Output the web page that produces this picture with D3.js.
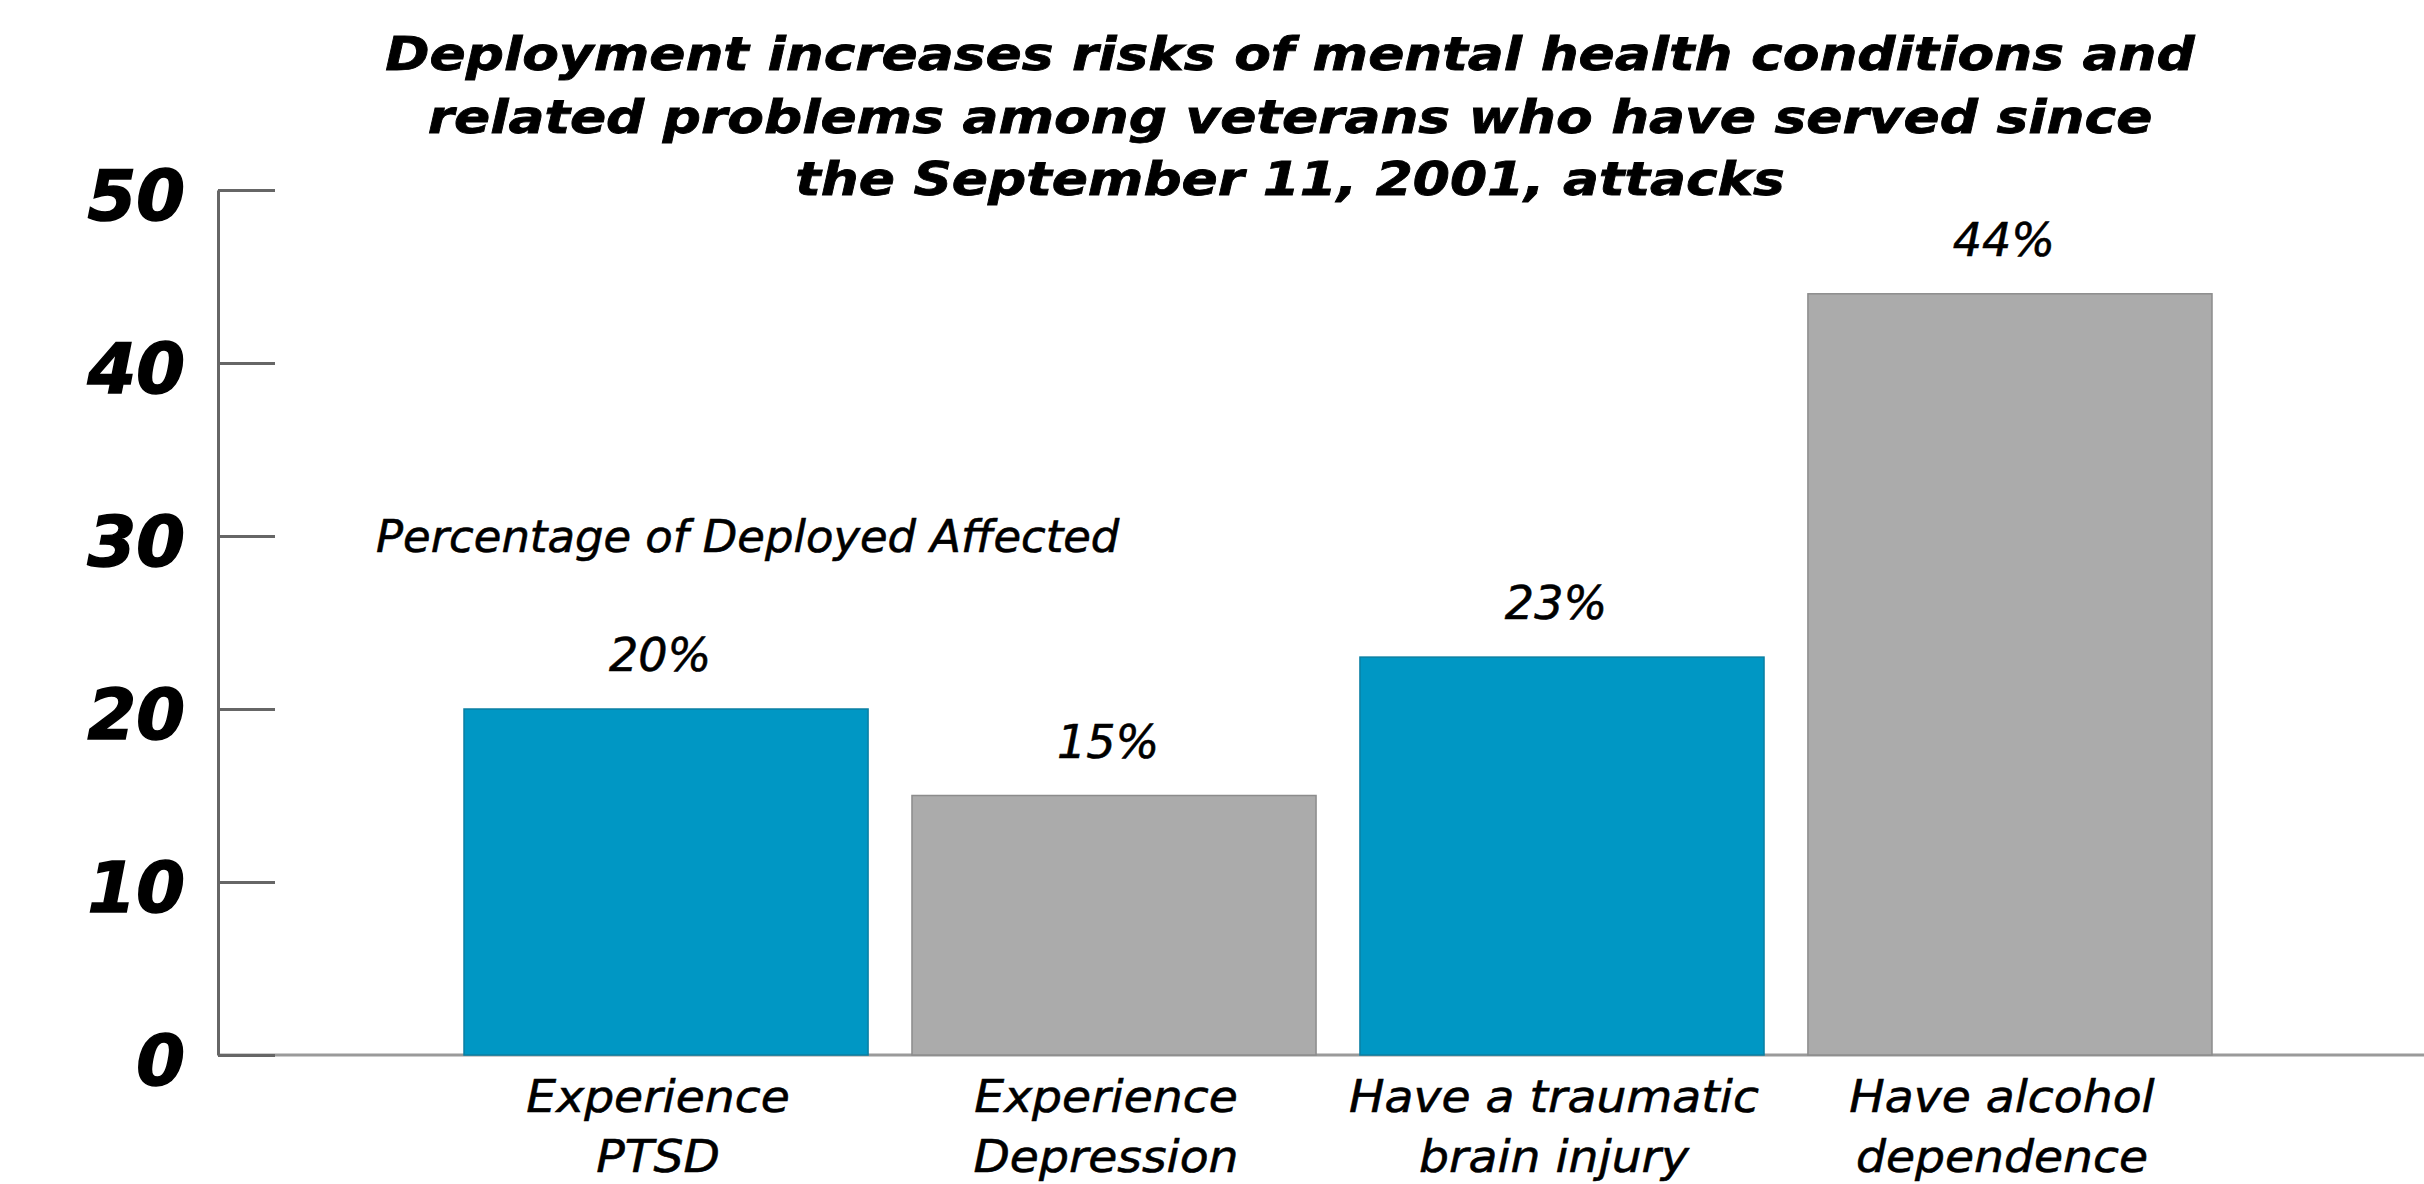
<!DOCTYPE html>
<html><head><meta charset="utf-8">
<script src="https://cdn.jsdelivr.net/npm/d3@7"></script>
<style>body{margin:0;background:#fff;} svg{display:block;}</style>
</head><body>
<svg id="chart" width="2424" height="1184"></svg>
<script>
const titleLines = ["Deployment increases risks of mental health conditions and",
  "related problems among veterans who have served since",
  "the September 11, 2001, attacks"];
const subtitle = "Percentage of Deployed Affected";
const categories = ["Experience PTSD", "Experience Depression", "Have a traumatic brain injury", "Have alcohol dependence"];
const categoryLines = [["Experience","PTSD"],["Experience","Depression"],["Have a traumatic","brain injury"],["Have alcohol","dependence"]];
const values = [20, 15, 23, 44];
const valueLabels = ["20%", "15%", "23%", "44%"];
const barColors = ["#0097c4", "#ababab", "#0097c4", "#ababab"];
const barStrokes = ["#0a7fa3", "#8c8c8c", "#0a7fa3", "#8c8c8c"];
const yTicks = [0, 10, 20, 30, 40, 50];

const svg = d3.select("#chart");
const axisX = 218, y0 = 1055, yTop = 190;

const y = d3.scaleLinear().domain([0, 50]).range([y0, yTop]);
const x = d3.scaleBand().domain(categories).range([464, 2212]).paddingInner(0.098).paddingOuter(0);

// x axis baseline
svg.append("line").attr("x1", axisX).attr("x2", 2424).attr("y1", y(0)).attr("y2", y(0))
  .attr("stroke", "#9a9a9a").attr("stroke-width", 3);

// bars
svg.selectAll("rect.bar").data(values).join("rect").attr("class","bar")
  .attr("x", (d,i) => x(categories[i]))
  .attr("y", d => y(d))
  .attr("width", x.bandwidth())
  .attr("height", d => y(0) - y(d))
  .attr("fill", (d,i) => barColors[i])
  .attr("stroke", (d,i) => barStrokes[i])
  .attr("stroke-width", 1.5);

// y axis
const yAxis = d3.axisLeft(y).tickValues(yTicks).tickSize(-57).tickSizeOuter(0).tickPadding(33);
const gy = svg.append("g").attr("transform", `translate(${axisX},0)`).call(yAxis);
gy.select(".domain").attr("stroke", "#666").attr("stroke-width", 3);
gy.selectAll(".tick line").attr("stroke", "#666").attr("stroke-width", 3);
gy.selectAll(".tick text")
  .attr("font-family", "DejaVu Sans").attr("font-weight", "bold").attr("font-style", "oblique")
  .attr("font-size", 70).attr("fill", "#000").attr("stroke", "#000").attr("stroke-width", 1.5)
  .attr("dy", "0.42em");

// title
svg.append("g").selectAll("text").data(titleLines).join("text")
  .attr("transform", (d,i) => `translate(1290,${70 + i*62.5}) scale(1.16,1)`)
  .attr("text-anchor", "middle")
  .attr("font-family", "DejaVu Sans").attr("font-weight", "bold").attr("font-style", "oblique")
  .attr("font-size", 46).attr("fill", "#000").attr("stroke", "#000").attr("stroke-width", 0.8)
  .text(d => d);

// subtitle
svg.append("text").attr("transform", "translate(376,552) scale(1.02,1)")
  .attr("font-family", "DejaVu Sans").attr("font-style", "oblique")
  .attr("font-size", 44).attr("fill", "#000").attr("stroke", "#000").attr("stroke-width", 0.6)
  .text(subtitle);

// value labels
svg.selectAll("text.val").data(values).join("text").attr("class","val")
  .attr("x", (d,i) => x(categories[i]) + x.bandwidth()/2 - 6)
  .attr("y", d => y(d) - 38)
  .attr("text-anchor", "middle")
  .attr("font-family", "DejaVu Sans").attr("font-style", "oblique")
  .attr("font-size", 46).attr("fill", "#000").attr("stroke", "#000").attr("stroke-width", 0.6)
  .text((d,i) => valueLabels[i]);

// category labels
const cg = svg.selectAll("g.cat").data(categories).join("g").attr("class","cat")
  .attr("transform", d => `translate(${x(d) + x.bandwidth()/2 - 8},0) scale(1.05,1)`);
cg.selectAll("text").data((d,i) => categoryLines[i]).join("text")
  .attr("x", 0).attr("y", (d,j) => 1112 + j*60)
  .attr("text-anchor", "middle")
  .attr("font-family", "DejaVu Sans").attr("font-style", "oblique")
  .attr("font-size", 45).attr("fill", "#000").attr("stroke", "#000").attr("stroke-width", 0.6)
  .text(d => d);
</script>
</body></html>
